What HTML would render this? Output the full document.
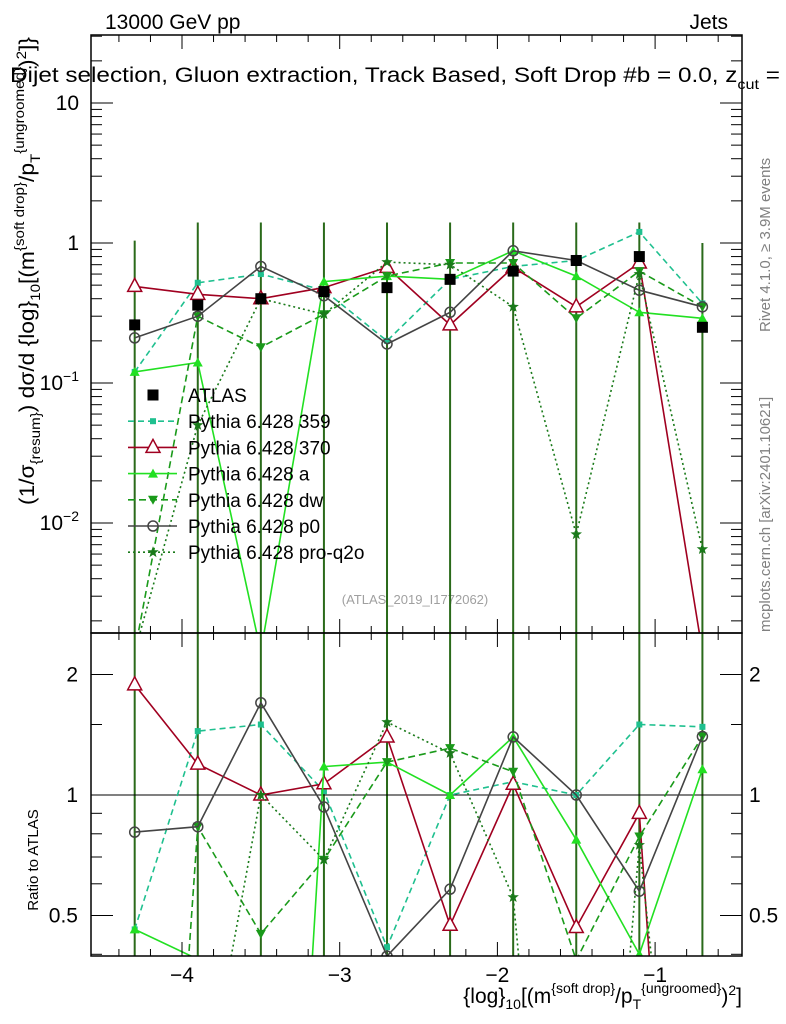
<!DOCTYPE html>
<html><head><meta charset="utf-8"><style>
body{margin:0;background:#fff;overflow:hidden;}
svg{font-family:"Liberation Sans",sans-serif;display:block;}
</style></head><body>
<svg id="c" width="786" height="1024" viewBox="0 0 786 1024">
<rect x="0" y="0" width="786" height="1024" fill="#fff"/>
<text x="105" y="29" font-size="21">13000 GeV pp</text>
<text x="728" y="29" font-size="21" text-anchor="end">Jets</text>
<text x="10" y="82" font-size="21" textLength="770" lengthAdjust="spacingAndGlyphs">Dijet selection, Gluon extraction, Track Based, Soft Drop #b = 0.0, z<tspan font-size="14" dy="7">cut</tspan><tspan dy="-7"> =</tspan></text>
<text transform="translate(770,332) rotate(-90)" font-size="15" fill="#808080">Rivet 4.1.0, ≥ 3.9M events</text>
<text transform="translate(770,632) rotate(-90)" font-size="15" fill="#808080">mcplots.cern.ch [arXiv:2401.10621]</text>
<text x="415" y="604" font-size="13" fill="#a0a0a0" text-anchor="middle">(ATLAS_2019_I1772062)</text>
<text transform="translate(34,505) rotate(-90)" font-size="21" textLength="468" lengthAdjust="spacingAndGlyphs">(1/σ<tspan font-size="14" dy="6">{resum}</tspan><tspan dy="-6">) dσ/d {log}</tspan><tspan font-size="14" dy="6">10</tspan><tspan dy="-6">[(m</tspan><tspan font-size="14" dy="-10">{soft drop}</tspan><tspan dy="10">/p</tspan><tspan font-size="14" dy="6">T</tspan><tspan font-size="14" dy="-16">{ungroomed}</tspan><tspan dy="10">)</tspan><tspan font-size="14" dy="-8">2</tspan><tspan dy="8">]}</tspan></text>
<text transform="translate(38,860) rotate(-90)" font-size="15" text-anchor="middle">Ratio to ATLAS</text>
<text x="742" y="1003" font-size="21" text-anchor="end">{log}<tspan font-size="14" dy="6">10</tspan><tspan dy="-6">[(m</tspan><tspan font-size="14" dy="-10">{soft drop}</tspan><tspan dy="10">/p</tspan><tspan font-size="14" dy="6">T</tspan><tspan font-size="14" dy="-16">{ungroomed}</tspan><tspan dy="10">)</tspan><tspan font-size="14" dy="-8">2</tspan><tspan dy="8">]</tspan></text>
<g id="g"></g>
</svg>
<script>
const xs=[-4.3,-3.9,-3.5,-3.1,-2.7,-2.3,-1.9,-1.5,-1.1,-0.7];
const atlas=[0.26,0.36,0.40,0.45,0.48,0.55,0.63,0.75,0.80,0.25];
const p359=[0.12,0.52,0.60,0.46,0.20,0.55,0.68,0.75,1.2,0.37];
const p370=[0.49,0.43,0.40,0.48,0.67,0.26,0.67,0.35,0.72,0.0012];
const pa=[0.12,0.14,0.0012,0.53,0.58,0.55,0.88,0.58,0.32,0.29];
const pdw=[0.0012,0.30,0.18,0.31,0.58,0.72,0.72,0.29,0.63,0.35];
const pp0=[0.21,0.30,0.68,0.42,0.19,0.32,0.88,0.75,0.46,0.35];
const pq2o=[0.0012,0.05,0.40,0.31,0.73,0.70,0.35,0.0083,0.60,0.0065];
const xTicks=[-4,-3,-2,-1];
const yTicks=[10,1,0.1,0.01];
const rTicks=[0.5,1,2];
const L=91,R=742,T=35,MB=633,RB=956;
const X=v=>182+(v+4)*157.7;
const Y=v=>243-Math.log10(v)*140;
const RY=v=>795-Math.log2(v)*120.5;
const ns="http://www.w3.org/2000/svg",g=document.getElementById('g');
function el(t,a,p){const e=document.createElementNS(ns,t);for(const k in a)e.setAttribute(k,a[k]);(p||g).appendChild(e);return e;}
const defs=el('defs',{});
const c1=el('clipPath',{id:'cm'},defs);el('rect',{x:L,y:T,width:R-L,height:MB-T},c1);
const c2=el('clipPath',{id:'cr'},defs);el('rect',{x:L,y:MB,width:R-L,height:RB-MB},c2);
const gm=el('g',{'clip-path':'url(#cm)'});
const gr=el('g',{'clip-path':'url(#cr)'});
xs.forEach((x,i)=>{
 const e1=el('line',{x1:X(x),x2:X(x),y1:Y(Math.min(atlas[i]*4,1.4)),y2:MB,stroke:'#2a6a1a','stroke-width':2},gm);
 
 const e2=el('line',{x1:X(x),x2:X(x),y1:MB,y2:RB,stroke:'#2a6a1a','stroke-width':2},gr);
 
});
el('line',{x1:L,x2:R,y1:RY(1),y2:RY(1),stroke:'#000','stroke-width':1},gr);
const series=[
 {n:'pythia-359',d:p359,c:'#1fc08f',dash:'6,4',m:'sq',f:1,lab:'Pythia 6.428 359'},
 {n:'pythia-370',d:p370,c:'#a00020',dash:'',m:'tri',f:0,lab:'Pythia 6.428 370'},
 {n:'pythia-a',d:pa,c:'#22e022',dash:'',m:'stri',f:1,lab:'Pythia 6.428 a'},
 {n:'pythia-dw',d:pdw,c:'#1a9a1a',dash:'7,4',m:'dtri',f:1,lab:'Pythia 6.428 dw'},
 {n:'pythia-p0',d:pp0,c:'#444',dash:'',m:'circ',f:0,lab:'Pythia 6.428 p0'},
 {n:'pythia-pro-q2o',d:pq2o,c:'#1a7a1a',dash:'2,3',m:'star',f:1,lab:'Pythia 6.428 pro-q2o'}
];
function marker(m,x,y,c,f,p){let e;
 if(m=='sq')e=el('rect',{x:x-3,y:y-3,width:6,height:6,fill:c},p);
 else if(m=='tri')e=el('polygon',{points:`${x},${y-8} ${x-7},${y+5} ${x+7},${y+5}`,fill:'#fff',stroke:c,'stroke-width':1.5},p);
 else if(m=='stri')e=el('polygon',{points:`${x},${y-5} ${x-5},${y+4} ${x+5},${y+4}`,fill:c},p);
 else if(m=='dtri')e=el('polygon',{points:`${x},${y+5} ${x-5},${y-4} ${x+5},${y-4}`,fill:c},p);
 else if(m=='circ')e=el('circle',{cx:x,cy:y,r:5,fill:'none',stroke:c,'stroke-width':1.5},p);
 else if(m=='star'){let pts=[];for(let k=0;k<10;k++){const r=k%2?2.5:6,a=-Math.PI/2+k*Math.PI/5;pts.push((x+r*Math.cos(a)).toFixed(1)+','+(y+r*Math.sin(a)).toFixed(1));}e=el('polygon',{points:pts.join(' '),fill:c},p);}
 else if(m=='big')e=el('rect',{x:x-5.5,y:y-5.5,width:11,height:11,fill:'#000'},p);
 return e;}
series.forEach(s=>{
 const pm=s.d.map((v,i)=>X(xs[i])+','+Y(v).toFixed(1)).join(' ');
 const l1=el('polyline',{points:pm,fill:'none',stroke:s.c,'stroke-width':1.6,'stroke-dasharray':s.dash},gm);
 
 const pr=s.d.map((v,i)=>X(xs[i])+','+RY(v/atlas[i]).toFixed(1)).join(' ');
 const l2=el('polyline',{points:pr,fill:'none',stroke:s.c,'stroke-width':1.6,'stroke-dasharray':s.dash},gr);
 
 s.d.forEach((v,i)=>{
  const m1=marker(s.m,X(xs[i]),Y(v),s.c,s.f,gm);
  
  const m2=marker(s.m,X(xs[i]),RY(v/atlas[i]),s.c,s.f,gr);
  
 });
});
atlas.forEach((v,i)=>{const m=marker('big',X(xs[i]),Y(v),'#000',1,gm);
 });
el('rect',{x:L,y:T,width:R-L,height:MB-T,fill:'none',stroke:'#000','stroke-width':1.5});
el('rect',{x:L,y:MB,width:R-L,height:RB-MB,fill:'none',stroke:'#000','stroke-width':1.5});
for(let v=-4.6;v<=-0.4;v+=0.2){const x=X(v);if(x<L||x>R)continue;const big=Math.abs(v-Math.round(v))<0.01;const h=big?14:7;
 el('line',{x1:x,x2:x,y1:MB,y2:MB-h,stroke:'#000'});el('line',{x1:x,x2:x,y1:T,y2:T+h,stroke:'#000'});
 el('line',{x1:x,x2:x,y1:RB,y2:RB-h,stroke:'#000'});el('line',{x1:x,x2:x,y1:MB,y2:MB+h,stroke:'#000'});}
xTicks.forEach(v=>{const t=el('text',{x:X(v),y:982,'font-size':21,'text-anchor':'middle'});t.textContent='−'+Math.abs(v);
 });
for(let d=-3;d<=1;d++)for(let k=1;k<10;k++){const v=k*Math.pow(10,d),y=Y(v);if(y<T||y>MB)continue;const h=k==1?22:11;
 el('line',{x1:L,x2:L+h,y1:y,y2:y,stroke:'#000'});el('line',{x1:R,x2:R-h,y1:y,y2:y,stroke:'#000'});}
yTicks.forEach(v=>{const y=Y(v);const t=el('text',{x:79,y:y+7,'font-size':21,'text-anchor':'end'});
 if(v>=1)t.textContent=String(v);else{const e=Math.round(Math.log10(v));t.textContent='10';const ts=el('tspan',{'font-size':14,dy:-9},t);ts.textContent='−'+Math.abs(e);}
 });
[0.4,0.5,0.6,0.7,0.8,0.9,1,1.5,2].forEach(v=>{const y=RY(v);const h=(v==0.5||v==1||v==2)?22:11;
 el('line',{x1:L,x2:L+h,y1:y,y2:y,stroke:'#000'});el('line',{x1:R,x2:R-h,y1:y,y2:y,stroke:'#000'});});
rTicks.forEach(v=>{const y=RY(v);[[78,'end'],[749,'start']].forEach(([x,a])=>{const t=el('text',{x:x,y:y+7,'font-size':21,'text-anchor':a});t.textContent=String(v);
 });});
const lg=el('g',{});
let ly=395;
marker('big',153,ly,'#000',1,lg);
const t0=el('text',{x:188,y:ly+7,'font-size':19},lg);t0.textContent='ATLAS';

series.forEach((s,i)=>{const y=ly+(i+1)*26.2;
 el('line',{x1:128,x2:177,y1:y,y2:y,stroke:s.c,'stroke-width':1.6,'stroke-dasharray':s.dash},lg);
 marker(s.m,153,y,s.c,s.f,lg);
 const t=el('text',{x:188,y:y+7,'font-size':19},lg);t.textContent=s.lab;
 });
</script>
</body></html>
